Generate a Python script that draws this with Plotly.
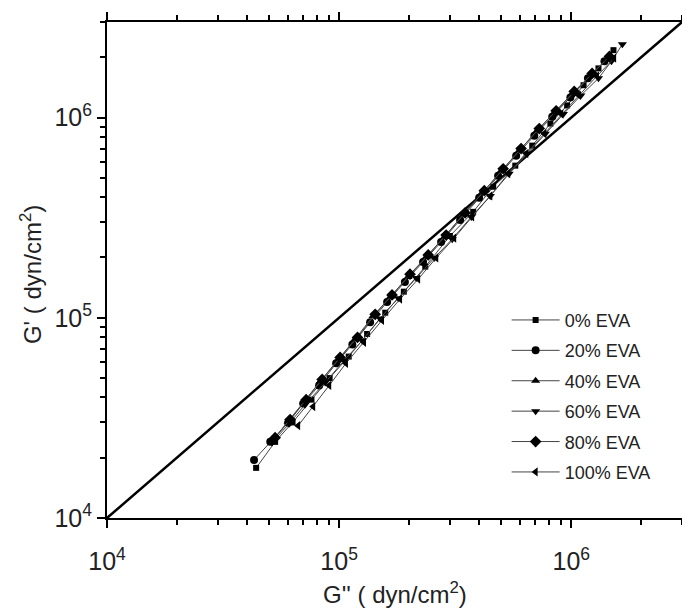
import plotly.graph_objects as go

# G'' (x) and G' (y) in dyn/cm^2 for each EVA content
g2_0 = [4.39e4, 5.3e4, 6.3e4, 7.6e4, 9.1e4, 1.10e5, 1.32e5, 1.58e5, 1.90e5, 2.35e5,
        3.0e5, 3.78e5, 4.61e5, 5.74e5, 6.79e5, 8.13e5, 9.6e5, 1.13e6, 1.31e6, 1.52e6]
g1_0 = [1.78e4, 2.4e4, 3.0e4, 3.9e4, 5.0e4, 6.4e4, 8.3e4, 1.06e5, 1.35e5, 1.8e5,
        2.56e5, 3.38e5, 4.51e5, 5.75e5, 7.24e5, 9.33e5, 1.15e6, 1.45e6, 1.76e6, 2.17e6]

g2_20 = [4.30e4, 5.05e4, 6.03e4, 7.0e4, 8.20e4, 9.71e4, 1.14e5, 1.36e5, 1.61e5, 1.92e5,
         2.30e5, 2.75e5, 3.32e5, 4.01e5, 4.84e5, 5.79e5, 6.93e5, 8.28e5, 9.91e5, 1.18e6, 1.39e6]
g1_20 = [1.95e4, 2.40e4, 2.99e4, 3.73e4, 4.59e4, 5.92e4, 7.36e4, 9.49e4, 1.20e5, 1.51e5,
         1.90e5, 2.39e5, 3.08e5, 3.97e5, 5.12e5, 6.45e5, 8.12e5, 1.01e6, 1.26e6, 1.57e6, 1.91e6]

g2_40 = [5.20e4, 6.03e4, 7.06e4, 8.28e4, 9.91e4, 1.17e5, 1.40e5, 1.66e5, 1.98e5, 2.37e5,
         2.84e5, 3.42e5, 4.13e5, 4.99e5, 5.97e5, 7.13e5, 8.45e5, 1.01e6, 1.21e6, 1.42e6]
g1_40 = [2.46e4, 3.03e4, 3.81e4, 4.81e4, 6.19e4, 7.80e4, 1.02e5, 1.27e5, 1.60e5, 2.01e5,
         2.53e5, 3.27e5, 4.21e5, 5.42e5, 6.84e5, 8.61e5, 1.06e6, 1.32e6, 1.62e6, 1.95e6]

g2_60 = [5.14e4, 6.09e4, 7.13e4, 8.71e4, 1.05e5, 1.26e5, 1.50e5, 1.80e5, 2.15e5, 2.57e5,
         3.07e5, 3.71e5, 4.48e5, 5.40e5, 6.46e5, 7.73e5, 9.25e5, 1.10e6, 1.31e6, 1.49e6, 1.66e6]
g1_60 = [2.38e4, 2.96e4, 3.68e4, 4.75e4, 6.12e4, 7.71e4, 9.93e4, 1.25e5, 1.58e5, 1.99e5,
         2.47e5, 3.19e5, 4.06e5, 5.24e5, 6.61e5, 8.31e5, 1.04e6, 1.29e6, 1.57e6, 1.91e6, 2.32e6]

g2_80 = [5.30e4, 6.15e4, 7.21e4, 8.45e4, 1.01e5, 1.20e5, 1.43e5, 1.69e5, 2.02e5, 2.42e5,
         2.89e5, 3.49e5, 4.22e5, 5.09e5, 6.08e5, 7.28e5, 8.61e5, 1.03e6, 1.23e6, 1.46e6]
g1_80 = [2.52e4, 3.10e4, 3.90e4, 4.92e4, 6.34e4, 7.98e4, 1.04e5, 1.30e5, 1.65e5, 2.06e5,
         2.59e5, 3.34e5, 4.31e5, 5.55e5, 7.0e5, 8.81e5, 1.08e6, 1.35e6, 1.66e6, 2.02e6]

g2_100 = [6.66e4, 7.73e4, 9.06e4, 1.07e5, 1.28e5, 1.53e5, 1.83e5, 2.19e5, 2.62e5, 3.13e5,
          3.74e5, 4.48e5, 5.35e5, 6.40e5, 7.66e5, 9.06e5, 1.08e6, 1.29e6, 1.53e6]
g1_100 = [2.89e4, 3.60e4, 4.59e4, 5.92e4, 7.54e4, 9.71e4, 1.24e5, 1.56e5, 1.99e5, 2.50e5,
          3.19e5, 4.06e5, 5.24e5, 6.61e5, 8.31e5, 1.04e6, 1.29e6, 1.61e6, 1.98e6]

# reference line G' = G''
ref_line = [1e4, 3e6]

labels = ["0% EVA", "20% EVA", "40% EVA", "60% EVA", "80% EVA", "100% EVA"]
xs = [g2_0, g2_20, g2_40, g2_60, g2_80, g2_100]
ys = [g1_0, g1_20, g1_40, g1_60, g1_80, g1_100]
symbols = ["square", "circle", "triangle-up", "triangle-down", "diamond", "triangle-left"]
sizes = [6, 8, 8, 8, 9, 8]

major_vals = [1e4, 1e5, 1e6]
major_text = ["10<sup>4</sup>", "10<sup>5</sup>", "10<sup>6</sup>"]
minor_vals = [m * 10 ** e for e in (4, 5, 6) for m in range(2, 10) if m * 10 ** e <= 3e6]

fig = go.Figure()
fig.add_trace(go.Scatter(x=ref_line, y=ref_line, mode="lines",
                         line=dict(color="black", width=2.5), showlegend=False,
                         hoverinfo="skip"))
for i, (x, y, lab, sym, sz) in enumerate(zip(xs, ys, labels, symbols, sizes)):
    fig.add_trace(go.Scatter(
        x=x, y=y, mode="lines+markers", name=lab, legendgroup=lab,
        line=dict(color="#444444", width=1),
        marker=dict(symbol=sym, size=sz, color="black"),
    ))

def axis(mirror, standoff):
    return dict(
        type="log", showline=True, linecolor="black", linewidth=2, mirror=mirror,
        ticks="outside", ticklen=8, tickwidth=1.5, tickcolor="black",
        tickvals=major_vals, ticktext=major_text, showgrid=False, zeroline=False,
        ticklabelstandoff=standoff,
        tickfont=dict(family="Liberation Sans, Arial", size=25, color="#222222"),
        minor=dict(tickvals=minor_vals, ticks="outside", ticklen=5, tickwidth=1.5,
                   tickcolor="black", showgrid=False),
    )

fig.update_layout(
    width=682, height=611,
    margin=dict(l=107, r=0, t=22, b=93),
    paper_bgcolor="white", plot_bgcolor="white",
    font=dict(family="Liberation Sans, Arial", color="#222222"),
    xaxis=dict(range=[4, 6.4771], **axis("allticks", 12)),
    yaxis=dict(range=[4, 6.4771], **axis(False, 0)),
    showlegend=True,
    legend=dict(x=0.695, y=0.436, xanchor="left", yanchor="top",
                bgcolor="rgba(0,0,0,0)", font=dict(size=18, color="#222222"),
                tracegroupgap=4, itemwidth=48),
    annotations=[
        dict(text="G'' ( dyn/cm<sup>2</sup>)", xref="paper", yref="paper",
             x=0.5, y=-0.152, xanchor="center", yanchor="middle", showarrow=False,
             font=dict(size=24, color="#222222")),
        dict(text="G' ( dyn/cm<sup>2</sup>)", xref="paper", yref="paper",
             x=-0.132, y=0.49, xanchor="center", yanchor="middle", showarrow=False,
             textangle=-90, font=dict(size=24, color="#222222")),
    ],
)

fig.write_html("out.html")
